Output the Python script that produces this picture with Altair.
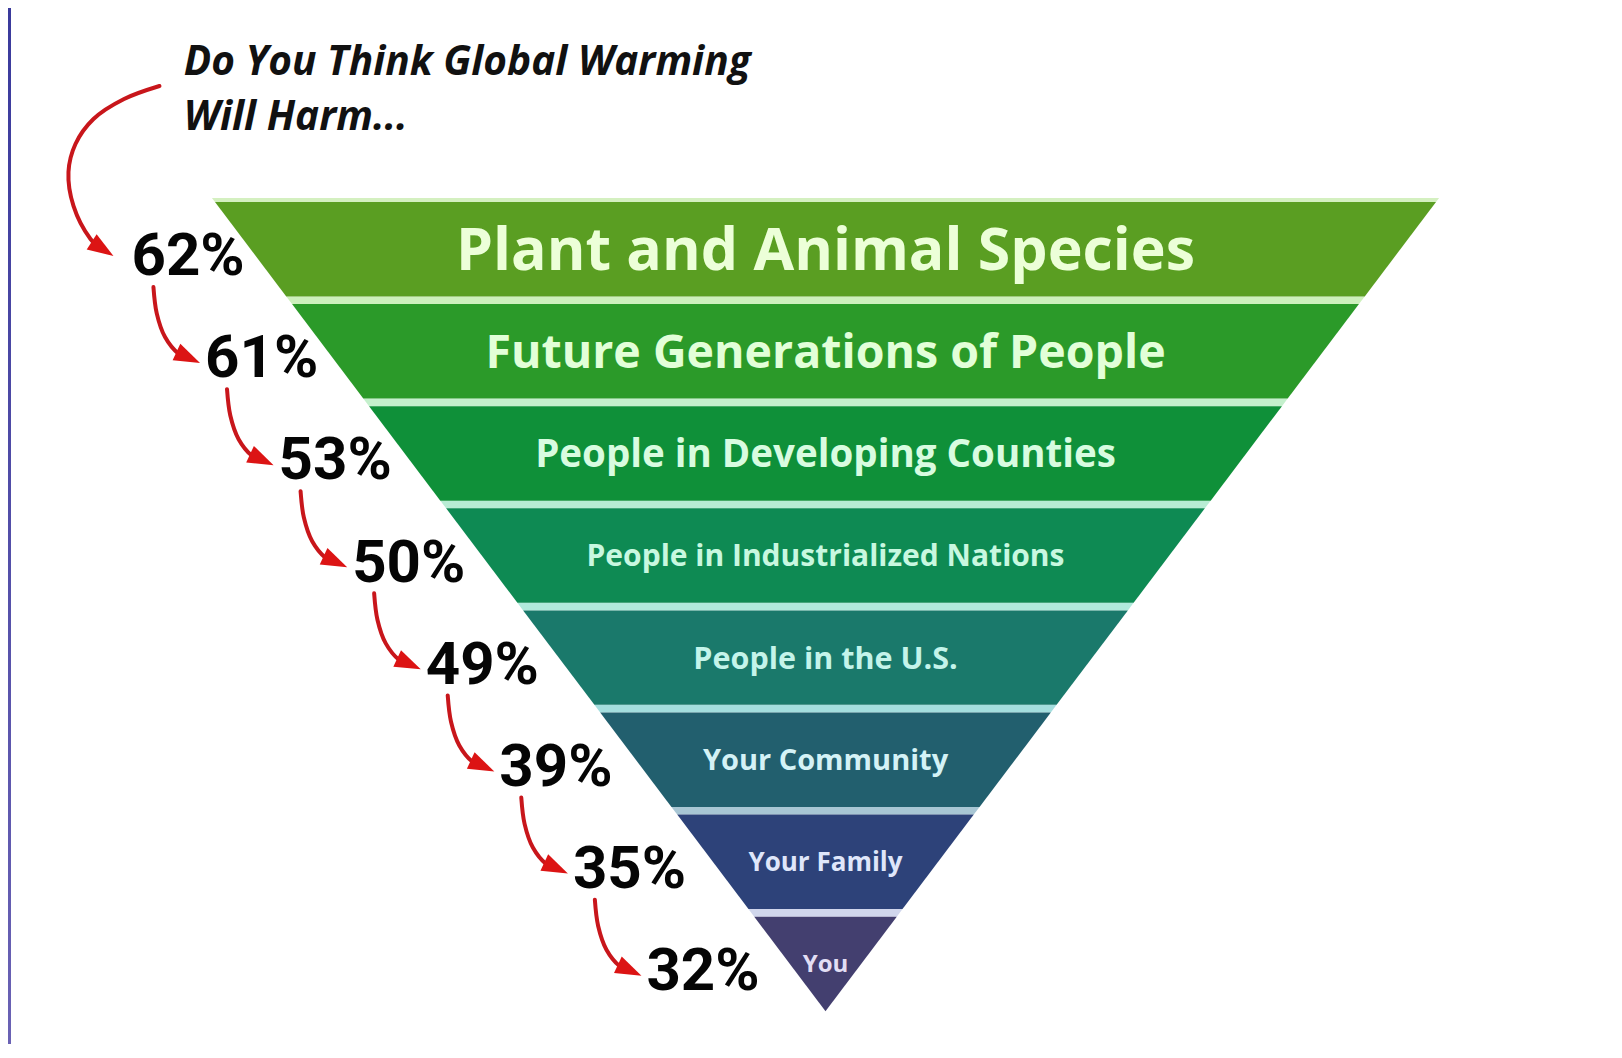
import math
import altair as alt
import pandas as pd

# ---------------- data ----------------
categories = [
    "Plant and Animal Species",
    "Future Generations of People",
    "People in Developing Counties",
    "People in Industrialized Nations",
    "People in the U.S.",
    "Your Community",
    "Your Family",
    "You",
]
percent_values = [62, 61, 53, 50, 49, 39, 35, 32]
title_lines = ["Do You Think Global Warming", "Will Harm..."]

# ---------------- style ----------------
band_colors = ["#5a9e22", "#2b9a29", "#0f9039", "#0e8a53", "#1a796b", "#225f6e", "#2d4279", "#433f6f"]
gap_colors = ["#d4f0c0", "#cdf0bc", "#c4f0cc", "#b8ecd4", "#b0eadc", "#a4dede", "#a8c6d4", "#d0d6ec"]
text_colors = ["#ecffd8", "#e2ffd8", "#d8fce0", "#c8f8e0", "#c4f4ea", "#d4f2f6", "#dfe6fa", "#e2def4"]
label_sizes = [59, 46.5, 38.5, 30, 30.5, 29, 26, 24]
PCT_SIZE = 60
TITLE_SIZE = 40.6

# ---------------- layout ----------------
W, H = 1600, 1036
CX, UX = 817.5, 610.5      # pyramid centre (px) and half-width of the top edge (px)
Y0, UY = 194.0, 102.1      # top edge (px) and band pitch (px)
BAND_H = 0.925
GAP = 1 - BAND_H
APEX = 7 + BAND_H
n = len(categories)

X_MIN, X_MAX = -CX / UX, (W - CX) / UX
Y_MIN, Y_MAX = -Y0 / UY, (H - Y0) / UY
xs = alt.Scale(domain=[X_MIN, X_MAX], nice=False, zero=False)
ys = alt.Scale(domain=[Y_MIN, Y_MAX], nice=False, zero=False, reverse=True)


def hw(level):
    return (APEX - level) / APEX


def px(dx):
    return dx / UX


def py(dy):
    return dy / UY


band_rows, gap_rows, label_rows, pct_rows, line_rows, head_rows = [], [], [], [], [], []
for k, cat in enumerate(categories):
    for yv in (k, k + BAND_H):
        band_rows.append(dict(band=cat, y=yv, xl=-hw(yv), xr=hw(yv), fill=band_colors[k]))
    g0 = k - GAP if k > 0 else -0.04
    for yv in (g0, k):
        gap_rows.append(dict(band=cat, y=yv, xl=-hw(yv), xr=hw(yv), fill=gap_colors[k]))
    fs = label_sizes[k]
    label_rows.append(dict(text=cat, x=0.0, y=k + BAND_H / 2 + py(0.357 * fs),
                           size=fs, color=text_colors[k]))
    # percentage label, left of the band
    x_right = -0.955 * hw(k)
    x_left = x_right - px(111)
    centre = k + 0.509
    pct_rows.append(dict(text=f"{percent_values[k]}%", x=x_left, y=centre + py(0.711 * PCT_SIZE / 2)))
    # arrow pointing at this label
    if k == 0:
        tip = (x_left - px(18), centre + py(2))
        shape = [(46, -170), (10.6, -157), (-20, -137), (-38, -112), (-45, -84),
                 (-40, -50), (-23, -17), (-11, -6)]
        ang = 33
    else:
        tip = (x_left - px(5), centre + py(7))
        shape = [(-46.6, -76), (-43.3, -49.7), (-35, -26), (-21.6, -9.4), (-12, -4.5)]
        ang = 25
    for i, (dx, dy) in enumerate(shape):
        line_rows.append(dict(arrow=k, i=i, x=tip[0] + px(dx), y=tip[1] + py(dy)))
    head_rows.append(dict(arrow=k, x=tip[0], y=tip[1], ang=ang))

title_rows = [dict(text=t, x=px(175.7 - CX), y=py(yb - Y0)) for t, yb in zip(title_lines, (67, 122))]

bands = pd.DataFrame(band_rows)
gaps = pd.DataFrame(gap_rows)
labels = pd.DataFrame(label_rows)
pcts = pd.DataFrame(pct_rows)
lines = pd.DataFrame(line_rows)
heads = pd.DataFrame(head_rows)
titles = pd.DataFrame(title_rows)


def area_layer(df):
    return alt.Chart(df).mark_area(orient="horizontal").encode(
        y=alt.Y("y:Q", scale=ys, axis=None),
        x=alt.X("xl:Q", scale=xs, axis=None, stack=None),
        x2="xr:Q",
        detail="band:N",
        color=alt.Color("fill:N", scale=None),
    )


gap_layer = area_layer(gaps)
band_layer = area_layer(bands)

label_layer = alt.Chart(labels).mark_text(
    font="Open Sans", fontWeight="bold", align="center", baseline="alphabetic"
).encode(
    x=alt.X("x:Q", scale=xs, axis=None),
    y=alt.Y("y:Q", scale=ys, axis=None),
    text="text:N",
    size=alt.Size("size:Q", scale=None),
    color=alt.Color("color:N", scale=None),
)

pct_layer = alt.Chart(pcts).mark_text(
    font="Roboto", fontWeight="bold", fontSize=PCT_SIZE, align="left",
    baseline="alphabetic", color="#050505"
).encode(
    x=alt.X("x:Q", scale=xs, axis=None),
    y=alt.Y("y:Q", scale=ys, axis=None),
    text="text:N",
)

line_layer = alt.Chart(lines).mark_line(
    color="#c8161b", strokeWidth=4, interpolate="catmull-rom", strokeCap="round"
).encode(
    x=alt.X("x:Q", scale=xs, axis=None),
    y=alt.Y("y:Q", scale=ys, axis=None),
    detail="arrow:N",
    order="i:Q",
)

head_layer = alt.Chart(heads).mark_point(
    shape="M0,0L-2,-0.7L-2,0.7Z", filled=True, size=676, color="#dc1414", opacity=1, strokeWidth=0
).encode(
    x=alt.X("x:Q", scale=xs, axis=None),
    y=alt.Y("y:Q", scale=ys, axis=None),
    angle=alt.Angle("ang:Q", scale=None),
)

title_layer = alt.Chart(titles).mark_text(
    font="Open Sans", fontWeight="bold", fontStyle="italic", fontSize=TITLE_SIZE,
    align="left", baseline="alphabetic", color="#111111"
).encode(
    x=alt.X("x:Q", scale=xs, axis=None),
    y=alt.Y("y:Q", scale=ys, axis=None),
    text="text:N",
)

border_layer = alt.Chart(pd.DataFrame({"a": [0]})).mark_rect(
    fill=alt.Gradient(gradient="linear", x1=0, x2=0, y1=0, y2=1,
                      stops=[alt.GradientStop(color="#3a3a9c", offset=0),
                             alt.GradientStop(color="#6a62b4", offset=1)])
).encode(x=alt.value(0), x2=alt.value(3), y=alt.value(0), y2=alt.value(H))

chart = alt.layer(
    gap_layer, band_layer, label_layer, line_layer, head_layer, pct_layer, title_layer, border_layer
).properties(
    width=W, height=H, padding=0, background="white",
    autosize=alt.AutoSizeParams(type="fit", contains="padding"),
).configure_view(stroke=None)

chart.save("out.html", embed_options={"renderer": "svg", "actions": False})
